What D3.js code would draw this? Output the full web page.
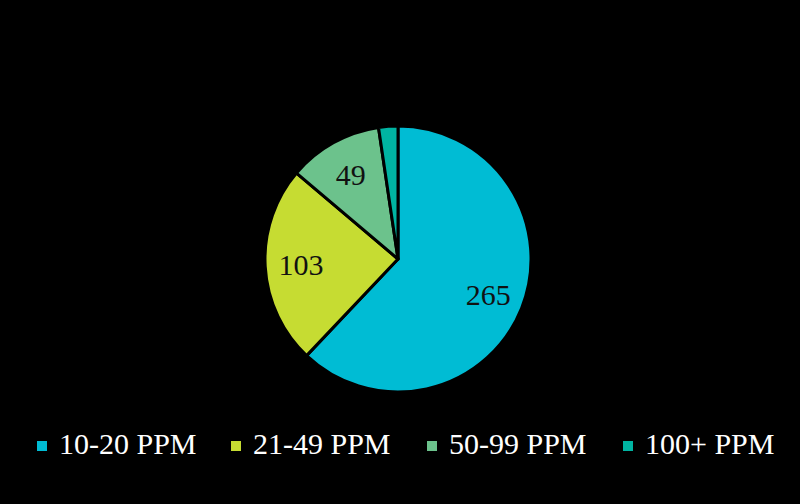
<!DOCTYPE html>
<html><head><meta charset="utf-8">
<script src="https://cdn.jsdelivr.net/npm/d3@7"></script>
<style>html,body{margin:0;padding:0;background:#000;}svg{display:block;}</style>
</head><body>
<svg id="chart" width="800" height="504"></svg>
<script>
const categories = ["10-20 PPM", "21-49 PPM", "50-99 PPM", "100+ PPM"];
const values = [265, 103, 49, 10];
const showLabel = [true, true, true, false];
const colors = ["#00bcd4", "#c6dc32", "#6cc28c", "#00b4a2"];

const svg = d3.select("#chart");
svg.append("rect").attr("width", 800).attr("height", 504).attr("fill", "#000");

const cx = 398, cy = 259, r = 133;
const data = categories.map((c, i) => ({cat: c, value: values[i], color: colors[i], show: showLabel[i]}));
const pie = d3.pie().sort(null).value(d => d.value);
const arcs = pie(data);
const arc = d3.arc().innerRadius(0).outerRadius(r);
const labelArc = d3.arc().innerRadius(r * 0.73).outerRadius(r * 0.73);

const g = svg.append("g").attr("transform", `translate(${cx},${cy})`);
g.selectAll("path").data(arcs).enter().append("path")
  .attr("d", arc).attr("fill", d => d.data.color)
  .attr("stroke", "#000").attr("stroke-width", 3).attr("stroke-linejoin", "round");

g.selectAll("text").data(arcs.filter(d => d.data.show)).enter().append("text")
  .attr("transform", d => `translate(${labelArc.centroid(d)})`)
  .attr("text-anchor", "middle").attr("dominant-baseline", "central")
  .attr("font-family", "'Liberation Serif', 'Times New Roman', serif")
  .attr("font-size", 30).attr("fill", "#111")
  .text(d => d.data.value);

// legend
const legendX = [37, 231, 427, 623];
const lg = svg.append("g");
data.forEach((d, i) => {
  const item = lg.append("g").attr("transform", `translate(${legendX[i]},0)`);
  item.append("rect").attr("x", 0).attr("y", 441).attr("width", 10).attr("height", 10).attr("fill", d.color);
  item.append("text").attr("x", 22).attr("y", 454)
    .attr("font-family", "'Liberation Serif', 'Times New Roman', serif")
    .attr("font-size", 30).attr("fill", "#fff").text(d.cat);
});
</script>
</body></html>
